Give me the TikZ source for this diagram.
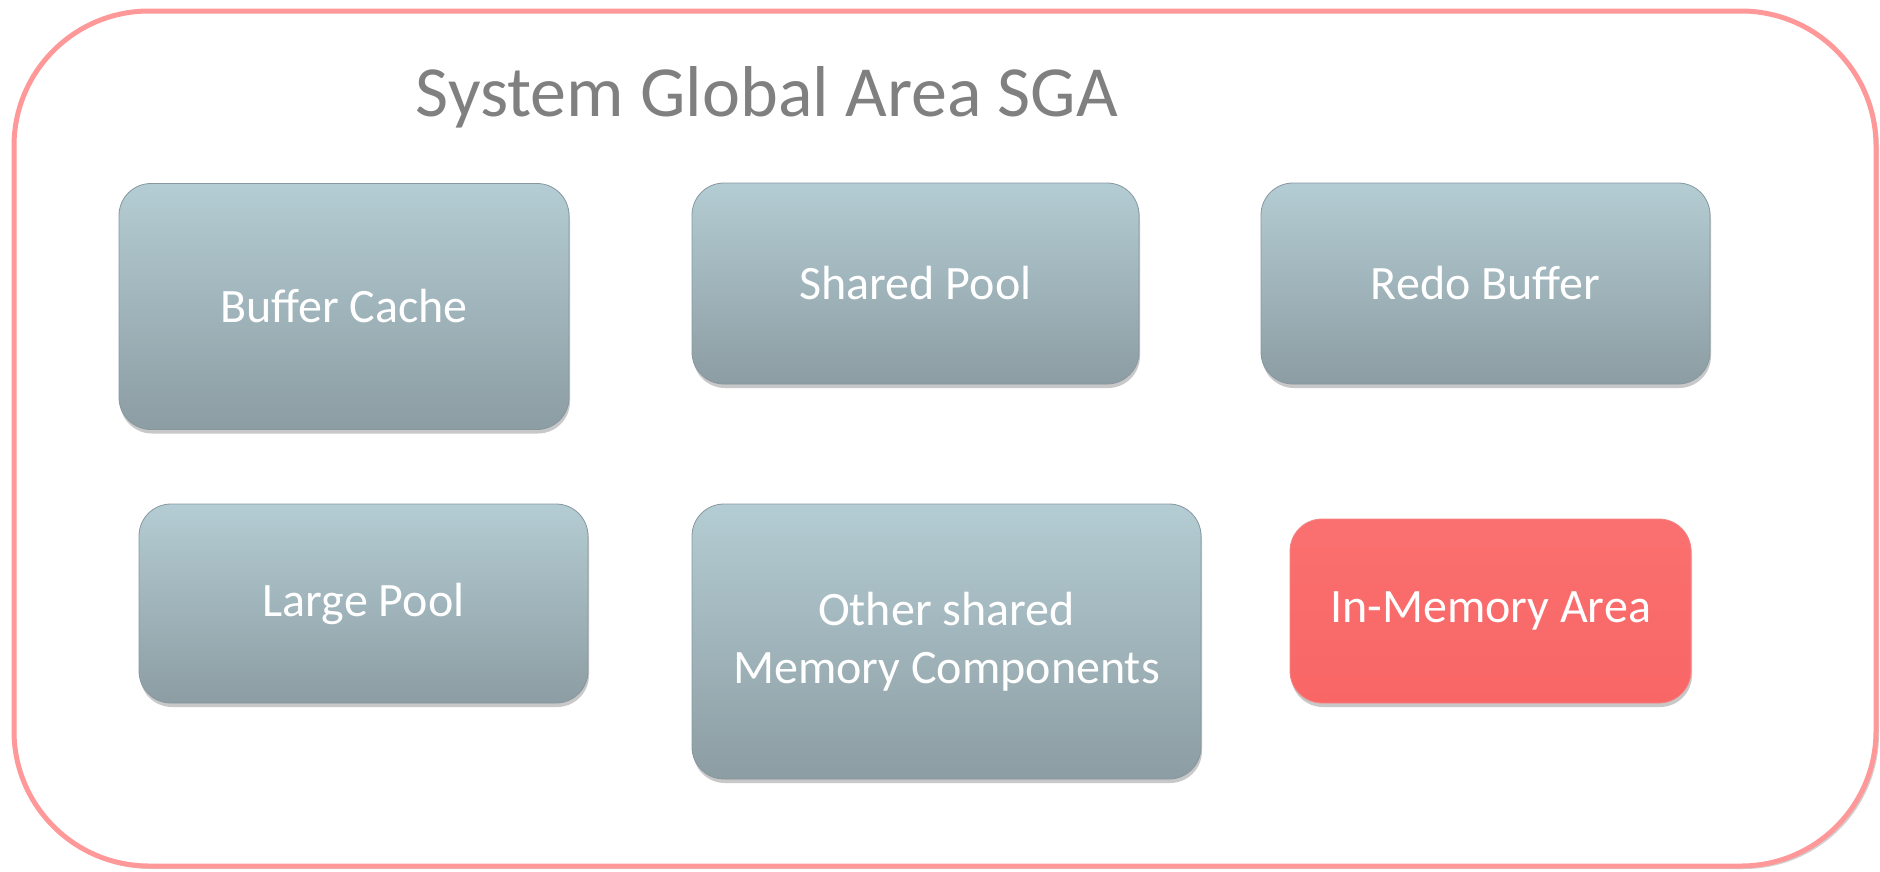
\documentclass[tikz,border=0pt]{standalone}
\usepackage{fontspec}
\setmainfont{Carlito}
\usetikzlibrary{shadows}
\definecolor{frame}{HTML}{FF9999}
\definecolor{titlegray}{HTML}{808080}
\definecolor{boxtop}{HTML}{B4CCD3}
\definecolor{boxmid}{HTML}{A4BAC1}
\definecolor{boxbot}{HTML}{8C9DA3}
\definecolor{boxedge}{HTML}{8797A0}
\definecolor{redtop}{HTML}{FA7070}
\definecolor{redbot}{HTML}{F96666}
\definecolor{rededge}{HTML}{F58585}
\tikzset{
  sgaframe/.style={draw=frame, line width=5pt, fill=white, rounded corners=135pt,
    drop shadow={shadow xshift=3pt, shadow yshift=-3pt, opacity=0.3, fill=black!60}},
  membox/.style={rectangle, rounded corners=32pt, top color=boxtop, middle color=boxmid,
    bottom color=boxbot, draw=boxedge, line width=0.8pt, text=white, align=center,
    font=\fontsize{48}{58}\selectfont, inner sep=0pt,
    drop shadow={shadow xshift=1pt, shadow yshift=-4pt, opacity=0.3, fill=black!70}},
  hotbox/.style={membox, top color=redtop, middle color=redbot!90!redtop,
    bottom color=redbot, draw=rededge},
  sgatitle/.style={text=titlegray, font=\fontsize{72}{86}\selectfont, inner sep=0pt}
}
\begin{document}
\begin{tikzpicture}[x=1pt,y=-1pt]
  \useasboundingbox (0,0) rectangle (1880,871);
  % outer SGA frame
  \path[sgaframe] (14,11) rectangle (1876,866);
  \node[sgatitle, anchor=base] (title) at (767,116) {System Global Area SGA};
  % memory components
  \node[membox, minimum width=450pt, minimum height=246pt] (buffer) at (344,306.5) {Buffer Cache};
  \node[membox, minimum width=447pt, minimum height=201pt] (shared) at (915.5,283.5) {Shared Pool};
  \node[membox, minimum width=449pt, minimum height=201pt] (redo) at (1485.5,283.5) {Redo Buffer};
  \node[membox, minimum width=449pt, minimum height=199pt] (large) at (363.5,603.5) {Large Pool};
  \node[membox, minimum width=509pt, minimum height=275pt] (other) at (946.5,641.5) {Other shared\\Memory Components};
  \node[hotbox, minimum width=401pt, minimum height=184pt] (inmem) at (1490.5,611) {In-Memory Area};
\end{tikzpicture}
\end{document}
